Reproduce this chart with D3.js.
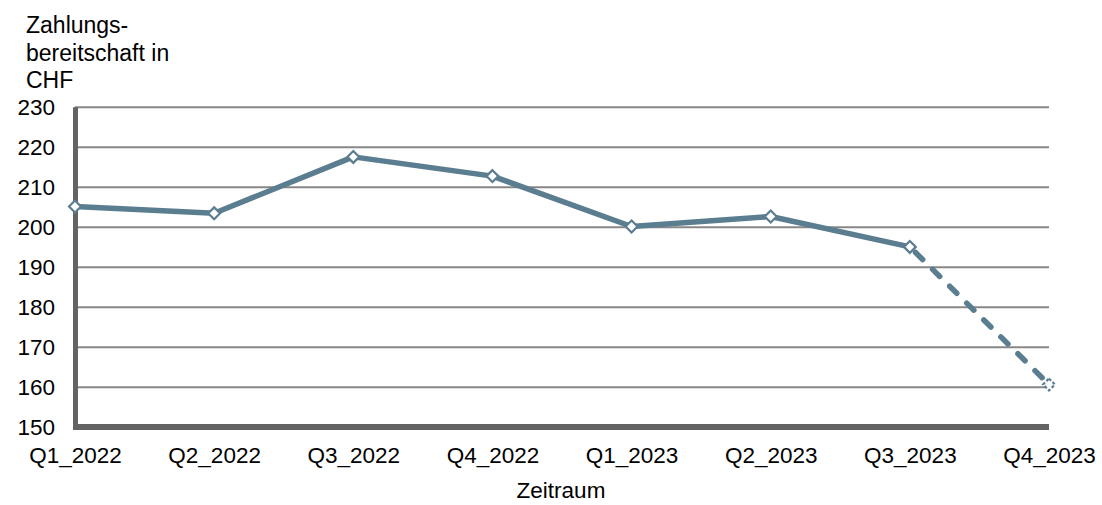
<!DOCTYPE html>
<html>
<head>
<meta charset="utf-8">
<script src="https://cdn.jsdelivr.net/npm/d3@7"></script>
<style>
  html, body { margin: 0; padding: 0; background: #fff; }
  svg { display: block; font-family: "Liberation Sans", Arial, sans-serif; }
</style>
</head>
<body>
<svg id="chart" width="1102" height="505"></svg>
<script>
// Quarterly willingness to pay (CHF); the last quarter is a projection
const categories = ["Q1_2022", "Q2_2022", "Q3_2022", "Q4_2022", "Q1_2023", "Q2_2023", "Q3_2023", "Q4_2023"];
const values = [205.2, 203.5, 217.6, 212.8, 200.2, 202.7, 195.1, 160.7];
const projectedFrom = 6; // index where the dashed projection begins
const yTicks = [150, 160, 170, 180, 190, 200, 210, 220, 230];
const yTitle = ["Zahlungs-", "bereitschaft in", "CHF"];
const xTitle = "Zeitraum";

const lineColor = "#5b7d90";
const gridColor = "#878787";
const axisColor = "#636363";
const fontSize = 22.5;

const svg = d3.select("#chart");

const x = d3.scalePoint().domain(categories).range([75, 1049]);
const y = d3.scaleLinear().domain([150, 230]).range([427.3, 107.3]);

// horizontal gridlines
svg.append("g")
  .selectAll("line")
  .data(yTicks.filter(t => t > 150))
  .join("line")
  .attr("x1", x.range()[0])
  .attr("x2", x.range()[1])
  .attr("y1", d => y(d))
  .attr("y2", d => y(d))
  .attr("stroke", gridColor)
  .attr("stroke-width", 2);

// y axis labels
const yAxis = d3.axisLeft(y).tickValues(yTicks).tickSize(0).tickPadding(0);
const gy = svg.append("g").attr("transform", "translate(55,0)").call(yAxis);
gy.select(".domain").remove();
gy.selectAll("text")
  .attr("fill", "#000")
  .attr("font-size", fontSize)
  .attr("font-family", "Liberation Sans, Arial, sans-serif");

// x axis labels
const xAxis = d3.axisBottom(x).tickSize(0).tickPadding(0);
const gx = svg.append("g").attr("transform", "translate(0,447)").call(xAxis);
gx.select(".domain").remove();
gx.selectAll("text")
  .attr("fill", "#000")
  .attr("font-size", fontSize)
  .attr("font-family", "Liberation Sans, Arial, sans-serif");

// thick left and bottom axis lines
svg.append("line")
  .attr("x1", 75.5).attr("x2", 75.5)
  .attr("y1", y(230)).attr("y2", 430)
  .attr("stroke", axisColor).attr("stroke-width", 5);
svg.append("line")
  .attr("x1", 73).attr("x2", x.range()[1])
  .attr("y1", 427).attr("y2", 427)
  .attr("stroke", axisColor).attr("stroke-width", 6);

// data line: solid for observed, dashed for projection
const pts = categories.map((c, i) => ({ c, v: values[i], i }));
const line = d3.line().x(d => x(d.c)).y(d => y(d.v));

svg.append("path")
  .datum(pts.slice(0, projectedFrom + 1))
  .attr("d", line)
  .attr("fill", "none")
  .attr("stroke", lineColor)
  .attr("stroke-width", 5.5)
  .attr("stroke-linejoin", "round");

svg.append("path")
  .datum(pts.slice(projectedFrom))
  .attr("d", line)
  .attr("fill", "none")
  .attr("stroke", lineColor)
  .attr("stroke-width", 5.5)
  .attr("stroke-linecap", "round")
  .attr("stroke-dasharray", "10,14")
  .attr("stroke-dashoffset", -8);

// diamond markers
const diamond = d3.symbol().type(d3.symbolDiamond2).size(90);
svg.append("g")
  .selectAll("path")
  .data(pts)
  .join("path")
  .attr("d", diamond)
  .attr("transform", d => `translate(${x(d.c)},${y(d.v)})`)
  .attr("fill", "#fff")
  .attr("stroke", lineColor)
  .attr("stroke-width", 2.2)
  .attr("stroke-dasharray", d => d.i > projectedFrom ? "3,2" : null);

// axis titles
svg.append("text")
  .attr("x", 26)
  .attr("font-size", 23)
  .attr("fill", "#000")
  .selectAll("tspan")
  .data(yTitle)
  .join("tspan")
  .attr("x", 26)
  .attr("y", (d, i) => 33 + i * 27.5)
  .text(d => d);

svg.append("text")
  .attr("x", 561)
  .attr("y", 498)
  .attr("text-anchor", "middle")
  .attr("font-size", fontSize)
  .attr("fill", "#000")
  .text(xTitle);
</script>
</body>
</html>
